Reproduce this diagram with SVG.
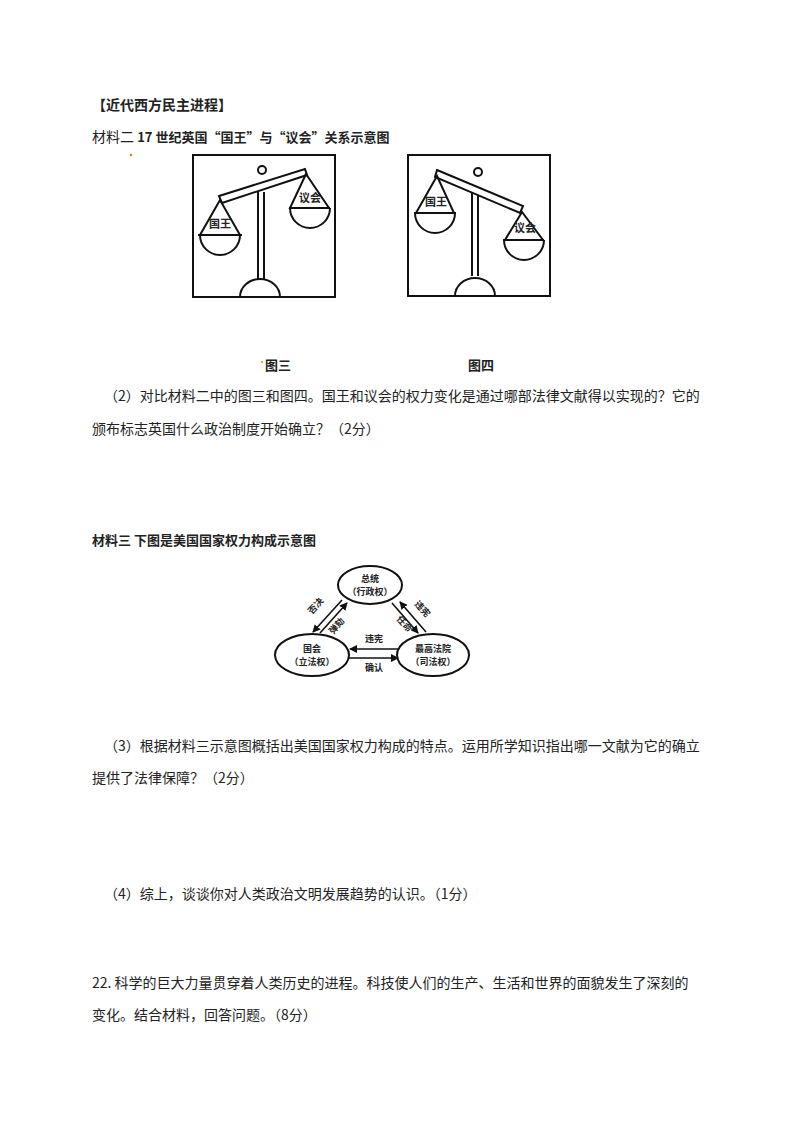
<svg xmlns="http://www.w3.org/2000/svg" width="800" height="1132" viewBox="0 0 800 1132">
<style>
text{font-family:"Noto Sans CJK SC","Liberation Sans",sans-serif;fill:#222}
.t{font-size:14px}
.b{font-weight:bold;font-size:13px}
.s{font-size:9px;font-weight:bold;font-family:"Noto Sans CJK SC",serif}
.k{fill:none;stroke:#111;stroke-width:2}
.w{fill:#fff;stroke:#111;stroke-width:2}
</style>
<defs><marker id="a" markerWidth="8" markerHeight="8" refX="7" refY="4" orient="auto" markerUnits="userSpaceOnUse"><path d="M0,0L8,4L0,8z" fill="#111"/></marker></defs>
<rect width="800" height="1132" fill="#fff"/>
<text x="92" y="110" class="b" style="font-size:14px">【近代西方民主进程】</text>
<text x="92" y="142" class="t">材料二 <tspan class="b">17 世纪英国“国王”与“议会”关系示意图</tspan></text>
<circle cx="131" cy="155" r="1.2" fill="#c80"/>
<g id="fig3">
<rect x="193" y="155" width="142" height="142" class="k"/>
<circle cx="262" cy="170" r="4" class="k" stroke-width="1.5"/>
<line x1="258" y1="192" x2="258" y2="280" class="k" stroke-width="1.5"/><line x1="264" y1="192" x2="264" y2="280" class="k" stroke-width="1.5"/>
<path d="M240,297A20,18 0 0 1 280,297" class="k"/>
<polygon points="219,196 305,169 307,175 222,203" class="w"/>
<polygon points="220,200 200,235 240,235" class="k" stroke-width="1.5"/>
<line x1="198" y1="235" x2="242" y2="235" class="k" stroke-width="2.5"/>
<path d="M200,235A20,20 0 0 0 240,235" class="k"/>
<text x="220" y="228" class="s" text-anchor="middle" style="font-size:11px">国王</text>
<polygon points="306,174 290,208 329,208" class="k" stroke-width="1.5"/>
<line x1="289" y1="208" x2="330" y2="208" class="k" stroke-width="2.5"/>
<path d="M290,208A20,20 0 0 0 330,208" class="k"/>
<text x="310" y="202" class="s" text-anchor="middle" style="font-size:11px">议会</text>
</g>
<g id="fig4">
<rect x="408" y="155" width="142" height="141" class="k"/>
<circle cx="478" cy="172" r="4" class="k" stroke-width="1.5"/>
<line x1="472" y1="192" x2="472" y2="276" class="k" stroke-width="1.5"/><line x1="478" y1="192" x2="478" y2="276" class="k" stroke-width="1.5"/>
<path d="M455,296A20,18 0 0 1 495,296" class="k"/>
<polygon points="437,170 523,206 520,213 435,177" class="w"/>
<polygon points="437,176 416,213 454,213" class="k" stroke-width="1.5"/>
<line x1="414" y1="213" x2="456" y2="213" class="k" stroke-width="2.5"/>
<path d="M415,213A20,20 0 0 0 455,213" class="k"/>
<text x="436" y="206" class="s" text-anchor="middle" style="font-size:11px">国王</text>
<polygon points="522,212 505,240 543,240" class="k" stroke-width="1.5"/>
<line x1="503" y1="240" x2="544" y2="240" class="k" stroke-width="2.5"/>
<path d="M504,240A20,20 0 0 0 544,240" class="k"/>
<text x="525" y="232" class="s" text-anchor="middle" style="font-size:11px">议会</text>
</g>
<circle cx="262" cy="362" r="1" fill="#c80"/>
<text x="265" y="370" class="b">图三</text>
<text x="468" y="370" class="b">图四</text>
<text x="104" y="401" class="t">（2）对比材料二中的图三和图四。国王和议会的权力变化是通过哪部法律文献得以实现的？它的</text>
<text x="92" y="434" class="t">颁布标志英国什么政治制度开始确立？（2分）</text>
<text x="92" y="545" class="b">材料三  下图是美国国家权力构成示意图</text>
<g id="president"><ellipse cx="370" cy="585" rx="32" ry="19" class="k"/>
<text x="370" y="582" class="s" text-anchor="middle">总统</text><text x="370" y="595" class="s" text-anchor="middle">（行政权）</text></g>
<g id="congress"><ellipse cx="312" cy="655" rx="37" ry="21" class="k"/>
<text x="312" y="652" class="s" text-anchor="middle">国会</text><text x="312" y="665" class="s" text-anchor="middle">（立法权）</text></g>
<g id="court"><ellipse cx="433" cy="655" rx="36" ry="21" class="k"/>
<text x="433" y="652" class="s" text-anchor="middle">最高法院</text><text x="433" y="665" class="s" text-anchor="middle">（司法权）</text></g>
<g id="connectors" stroke="#111" stroke-width="1.6" marker-end="url(#a)">
<line x1="342" y1="600" x2="313" y2="632"/>
<line x1="320" y1="633" x2="347" y2="603"/>
<line x1="392" y1="603" x2="418" y2="633"/>
<line x1="426" y1="632" x2="400" y2="602"/>
<line x1="398" y1="649" x2="350" y2="649"/>
<line x1="349" y1="658" x2="398" y2="658"/>
</g>
<text class="s" transform="translate(318,608) rotate(-48)" text-anchor="middle">否决</text>
<text class="s" transform="translate(339,628) rotate(-48)" text-anchor="middle">弹劾</text>
<text class="s" transform="translate(402,626) rotate(48)" text-anchor="middle">任命</text>
<text class="s" transform="translate(420,611) rotate(48)" text-anchor="middle">违宪</text>
<text x="374" y="642" class="s" text-anchor="middle">违宪</text>
<text x="374" y="671" class="s" text-anchor="middle">确认</text>
<text x="104" y="751" class="t">（3）根据材料三示意图概括出美国国家权力构成的特点。运用所学知识指出哪一文献为它的确立</text>
<text x="92" y="783" class="t">提供了法律保障？（2分）</text>
<text x="104" y="899" class="t">（4）综上，谈谈你对人类政治文明发展趋势的认识。（1分）</text>
<text x="92" y="988" class="t">22. 科学的巨大力量贯穿着人类历史的进程。科技使人们的生产、生活和世界的面貌发生了深刻的</text>
<text x="92" y="1020" class="t">变化。结合材料，回答问题。（8分）</text>
</svg>
